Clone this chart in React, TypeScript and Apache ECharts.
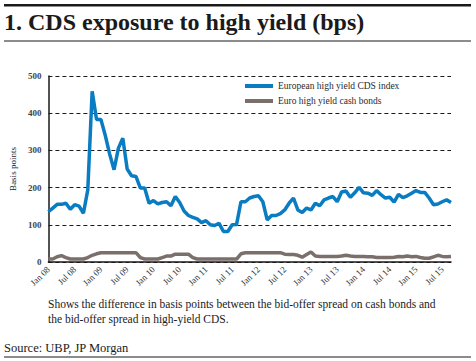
import React, { useEffect, useRef } from "react";
import * as echarts from "echarts";

const monthNames = ["Jan", "Feb", "Mar", "Apr", "May", "Jun", "Jul", "Aug", "Sep", "Oct", "Nov", "Dec"];
const startYear = 2008;
const monthCount = 93;
const categories: string[] = Array.from({ length: monthCount }, (_, i) => {
  const y = startYear + Math.floor(i / 12);
  return `${monthNames[i % 12]} ${String(y % 100).padStart(2, "0")}`;
});

const cdsIndex = [
  135, 145, 155, 155, 158, 142, 154, 150, 131, 194, 459, 383,
  383, 340, 290, 248, 306, 333, 250, 232, 230, 199, 199, 158,
  165, 156, 160, 162, 151, 176, 160, 137, 125, 120, 116, 106,
  111, 100, 98, 104, 82, 82, 100, 101, 162, 162, 172, 176,
  178, 162, 113, 125, 125, 130, 140, 158, 172, 140, 133, 145,
  140, 158, 151, 167, 172, 176, 162, 188, 191, 174, 186, 201,
  186, 185, 179, 192, 181, 172, 174, 161, 182, 173, 178, 185,
  192, 187, 187, 172, 154, 156, 162, 167, 160,
];

const cashBonds = [
  8, 8, 14, 17, 12, 8, 8, 8, 8, 12, 18, 22,
  25, 25, 25, 25, 25, 25, 25, 25, 25, 12, 8, 8,
  8, 8, 12, 16, 16, 21, 21, 21, 21, 12, 8, 8,
  8, 8, 8, 8, 8, 8, 8, 8, 22, 25, 25, 25,
  25, 25, 25, 25, 25, 25, 21, 20, 20, 18, 13, 20,
  27, 16, 15, 15, 15, 15, 15, 16, 18, 16, 15, 15,
  15, 14, 14, 12, 12, 12, 12, 13, 15, 14, 16, 14,
  15, 12, 10, 10, 14, 18, 15, 14, 15,
];

const yTicks = { min: 0, max: 500, interval: 100 };

const titleText = "1. CDS exposure to high yield (bps)";
const captionLines = [
  "Shows the difference in basis points between the bid-offer spread on cash bonds and",
  "the bid-offer spread in high-yield CDS.",
];
const sourceText = "Source: UBP, JP Morgan";
const seriesNames = ["European high yield CDS index", "Euro high yield cash bonds"];

const SERIF = "'Liberation Serif', 'DejaVu Serif', serif";

export default function App() {
  const ref = useRef<HTMLDivElement>(null);
  useEffect(() => {
    if (!ref.current) return;
    const chart = echarts.init(ref.current, undefined, { renderer: "svg" });
    chart.setOption({
      animation: false,
      backgroundColor: "#ffffff",
      grid: { left: 48, right: 25, top: 76, bottom: 99 },
      legend: {
        orient: "vertical",
        left: 245,
        top: 81,
        padding: 0,
        itemWidth: 28,
        itemHeight: 4,
        itemGap: 5,
        icon: "rect",
        textStyle: { fontFamily: SERIF, fontSize: 9.5, color: "#2a2a2a" },
        data: seriesNames,
      },
      xAxis: {
        type: "category",
        data: categories,
        boundaryGap: false,
        axisLine: { show: true, lineStyle: { color: "#1a1a1a", width: 1.5 } },
        axisTick: { show: false },
        axisLabel: {
          interval: 5,
          rotate: 45,
          margin: 6,
          fontFamily: SERIF,
          fontSize: 9,
          color: "#333",
        },
        splitLine: { show: false },
      },
      yAxis: {
        type: "value",
        min: yTicks.min,
        max: yTicks.max,
        interval: yTicks.interval,
        name: "Basis points",
        nameLocation: "middle",
        nameGap: 31,
        nameTextStyle: { fontFamily: SERIF, fontSize: 9, color: "#222" },
        axisLine: { show: true, lineStyle: { color: "#1a1a1a", width: 1.5 } },
        axisTick: { show: false },
        axisLabel: {
          margin: 7,
          fontFamily: SERIF,
          fontSize: 9,
          fontWeight: "bold",
          color: "#444",
        },
        splitLine: { show: true, lineStyle: { color: "#1a1a1a", type: [4, 3], width: 1 } },
      },
      series: [
        {
          name: seriesNames[0],
          type: "line",
          data: cdsIndex,
          showSymbol: false,
          symbol: "none",
          lineStyle: { color: "#0a7cc1", width: 3.5 },
          itemStyle: { color: "#0a7cc1" },
          z: 3,
        },
        {
          name: seriesNames[1],
          type: "line",
          data: cashBonds,
          showSymbol: false,
          symbol: "none",
          lineStyle: { color: "#7b6f6b", width: 3.5 },
          itemStyle: { color: "#7b6f6b" },
          z: 2,
        },
      ],
      graphic: [
        { type: "rect", shape: { x: 4, y: 4, width: 467, height: 2.5 }, style: { fill: "#1a1a1a" } },
        {
          type: "text",
          x: 4,
          y: 22,
          style: {
            text: titleText,
            fontFamily: SERIF,
            fontWeight: "bold",
            fontSize: 24,
            fill: "#1a1a1a",
            verticalAlign: "middle",
          },
        },
        { type: "rect", shape: { x: 4, y: 40.5, width: 467, height: 1 }, style: { fill: "#1a1a1a" } },
        {
          type: "text",
          x: 48,
          y: 304,
          style: {
            text: captionLines[0],
            fontFamily: SERIF,
            fontSize: 11.5,
            fill: "#1a1a1a",
            verticalAlign: "middle",
          },
        },
        {
          type: "text",
          x: 48,
          y: 319,
          style: {
            text: captionLines[1],
            fontFamily: SERIF,
            fontSize: 11.5,
            fill: "#1a1a1a",
            verticalAlign: "middle",
          },
        },
        {
          type: "text",
          x: 4,
          y: 348,
          style: {
            text: sourceText,
            fontFamily: SERIF,
            fontSize: 12.5,
            fill: "#1a1a1a",
            verticalAlign: "middle",
          },
        },
        { type: "rect", shape: { x: 4, y: 356.5, width: 467, height: 1 }, style: { fill: "#1a1a1a" } },
      ],
    });
    return () => chart.dispose();
  }, []);
  return (
    <div
      ref={ref}
      style={{ position: "absolute", left: 0, top: 0, width: 476, height: 361 }}
    />
  );
}
